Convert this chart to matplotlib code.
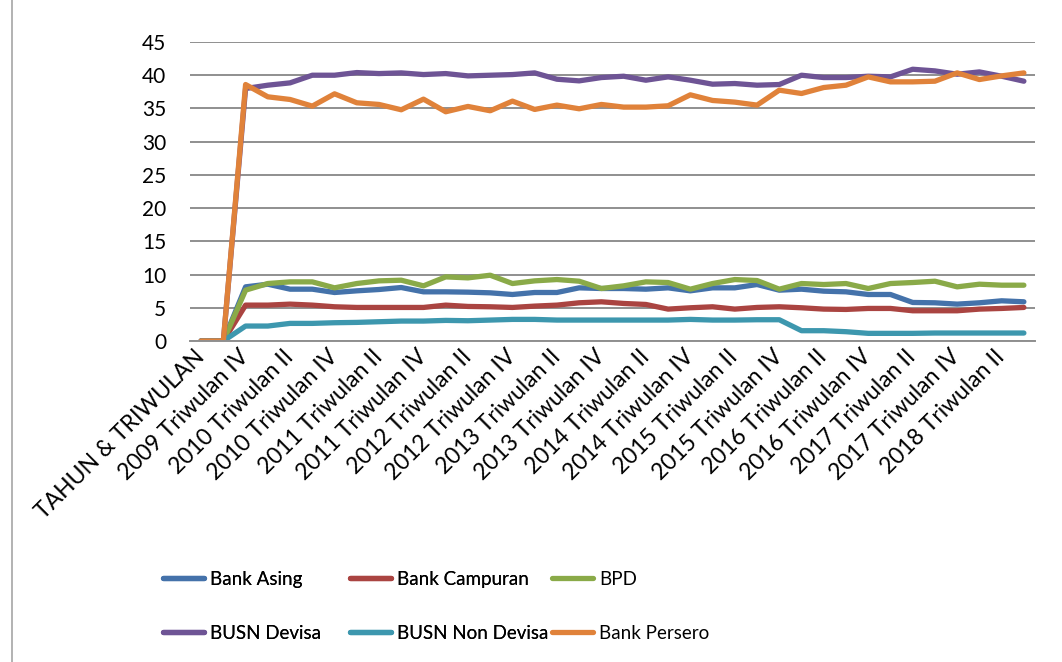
import matplotlib
matplotlib.use("Agg")
import matplotlib.pyplot as plt
from matplotlib.lines import Line2D

categories = [
    "TAHUN & TRIWULAN", "2009 Triwulan III", "2009 Triwulan IV",
    "2010 Triwulan I", "2010 Triwulan II", "2010 Triwulan III", "2010 Triwulan IV",
    "2011 Triwulan I", "2011 Triwulan II", "2011 Triwulan III", "2011 Triwulan IV",
    "2012 Triwulan I", "2012 Triwulan II", "2012 Triwulan III", "2012 Triwulan IV",
    "2013 Triwulan I", "2013 Triwulan II", "2013 Triwulan III", "2013 Triwulan IV",
    "2014 Triwulan I", "2014 Triwulan II", "2014 Triwulan III", "2014 Triwulan IV",
    "2015 Triwulan I", "2015 Triwulan II", "2015 Triwulan III", "2015 Triwulan IV",
    "2016 Triwulan I", "2016 Triwulan II", "2016 Triwulan III", "2016 Triwulan IV",
    "2017 Triwulan I", "2017 Triwulan II", "2017 Triwulan III", "2017 Triwulan IV",
    "2018 Triwulan I", "2018 Triwulan II", "2018 Triwulan III",
]

bank_asing = [0, 0, 8.15, 8.55, 7.8, 7.8, 7.3, 7.55, 7.75, 8.05, 7.4, 7.4, 7.35,
              7.25, 7.0, 7.3, 7.3, 8.0, 7.9, 7.9, 7.8, 8.0, 7.55, 8.0, 8.0, 8.5,
              7.65, 7.8, 7.5, 7.4, 7.0, 7.0, 5.8, 5.75, 5.55, 5.75, 6.05, 5.9]
bank_campuran = [0, 0, 5.4, 5.4, 5.55, 5.4, 5.15, 5.05, 5.05, 5.05, 5.05, 5.4, 5.2,
                 5.15, 5.05, 5.25, 5.4, 5.75, 5.9, 5.65, 5.5, 4.8, 5.0, 5.15, 4.8, 5.05,
                 5.15, 5.0, 4.8, 4.75, 4.9, 4.9, 4.55, 4.55, 4.55, 4.8, 4.9, 5.05]
bpd = [0, 0, 7.65, 8.65, 8.9, 8.9, 8.0, 8.65, 9.05, 9.15, 8.3, 9.65, 9.5,
       9.9, 8.65, 9.05, 9.25, 9.0, 7.9, 8.3, 8.9, 8.8, 7.8, 8.65, 9.25, 9.1,
       7.8, 8.65, 8.5, 8.65, 7.9, 8.65, 8.8, 9.0, 8.15, 8.55, 8.4, 8.4]
busn_devisa = [0, 0, 38.0, 38.5, 38.85, 40.0, 40.0, 40.4, 40.25, 40.35, 40.1, 40.25, 39.9,
               40.0, 40.1, 40.35, 39.4, 39.15, 39.65, 39.85, 39.25, 39.75, 39.25, 38.65, 38.75, 38.5,
               38.6, 40.0, 39.65, 39.65, 39.85, 39.75, 40.9, 40.65, 40.15, 40.5, 39.85, 39.1]
busn_non_devisa = [0, 0, 2.25, 2.25, 2.65, 2.65, 2.75, 2.8, 2.9, 3.0, 3.0, 3.1, 3.05,
                   3.15, 3.25, 3.25, 3.15, 3.15, 3.15, 3.15, 3.15, 3.15, 3.25, 3.15, 3.15, 3.2,
                   3.2, 1.55, 1.55, 1.4, 1.15, 1.15, 1.15, 1.2, 1.2, 1.2, 1.2, 1.2]
bank_persero = [0, 0, 38.6, 36.75, 36.35, 35.35, 37.2, 35.85, 35.6, 34.8, 36.4, 34.5, 35.3,
                34.65, 36.1, 34.85, 35.5, 34.95, 35.6, 35.2, 35.2, 35.4, 37.05, 36.2, 35.95, 35.5,
                37.75, 37.25, 38.15, 38.5, 39.75, 39.0, 39.0, 39.1, 40.35, 39.35, 39.9, 40.35]

series_names = ["Bank Asing", "Bank Campuran", "BPD", "BUSN Devisa", "BUSN Non Devisa", "Bank Persero"]
series_values = [bank_asing, bank_campuran, bpd, busn_devisa, busn_non_devisa, bank_persero]
colors = ["#4472AA", "#AA4441", "#8AAA48", "#6E5495", "#3D97AE", "#E0823A"]
y_ticks = [0, 5, 10, 15, 20, 25, 30, 35, 40, 45]

plt.rcParams['font.family'] = ['Lato', 'DejaVu Sans']

W, H = 1062, 662
fig = plt.figure(figsize=(W / 100, H / 100), dpi=100)
ax = fig.add_axes([190 / W, 1 - 341 / H, (1035 - 190) / W, (341 - 42) / H])

x = list(range(len(categories)))
handles = []
for name, vals, c in zip(series_names, series_values, colors):
    ln, = ax.plot(x, vals, color=c, lw=3.8, solid_joinstyle='round',
                  solid_capstyle='round', label=name)
    handles.append(ln)

ax.set_xlim(-0.5, len(categories) - 0.5)
ax.set_ylim(0, 45)
ax.set_yticks(y_ticks)
ax.set_yticklabels([str(v) for v in y_ticks])
ax.yaxis.grid(True, color='#8f8f8f', lw=1.4)
ax.set_axisbelow(True)
for s in ['left', 'right', 'top']:
    ax.spines[s].set_visible(False)
ax.spines['bottom'].set_color('#8f8f8f')
ax.spines['bottom'].set_linewidth(1.4)

ax.set_xticks(x[::2])
ax.set_xticklabels(categories[::2], rotation=45, ha='right', va='center',
                   rotation_mode='anchor', fontsize=16.5)
ax.tick_params(axis='x', length=0, pad=9)
ax.tick_params(axis='y', length=0, pad=17, labelsize=15)

# legend in three columns, placed like the original
col_x = [163, 350, 552]
for i, cx in enumerate(col_x):
    hs = [handles[i], handles[i + 3]]
    leg = fig.legend(hs, [h.get_label() for h in hs], loc='upper left',
                     bbox_to_anchor=(cx / W, 1 - 571 / H), ncol=1, frameon=False,
                     fontsize=13.5, handlelength=2.2, handletextpad=0.3,
                     labelspacing=1.95, borderaxespad=0, borderpad=0)
    if i < 2:
        fig.add_artist(leg)

fig.add_artist(Line2D([12 / W, 12 / W], [0, 1], color='#a6a6a6', lw=1.2))

fig.savefig("out.png", dpi=100)
